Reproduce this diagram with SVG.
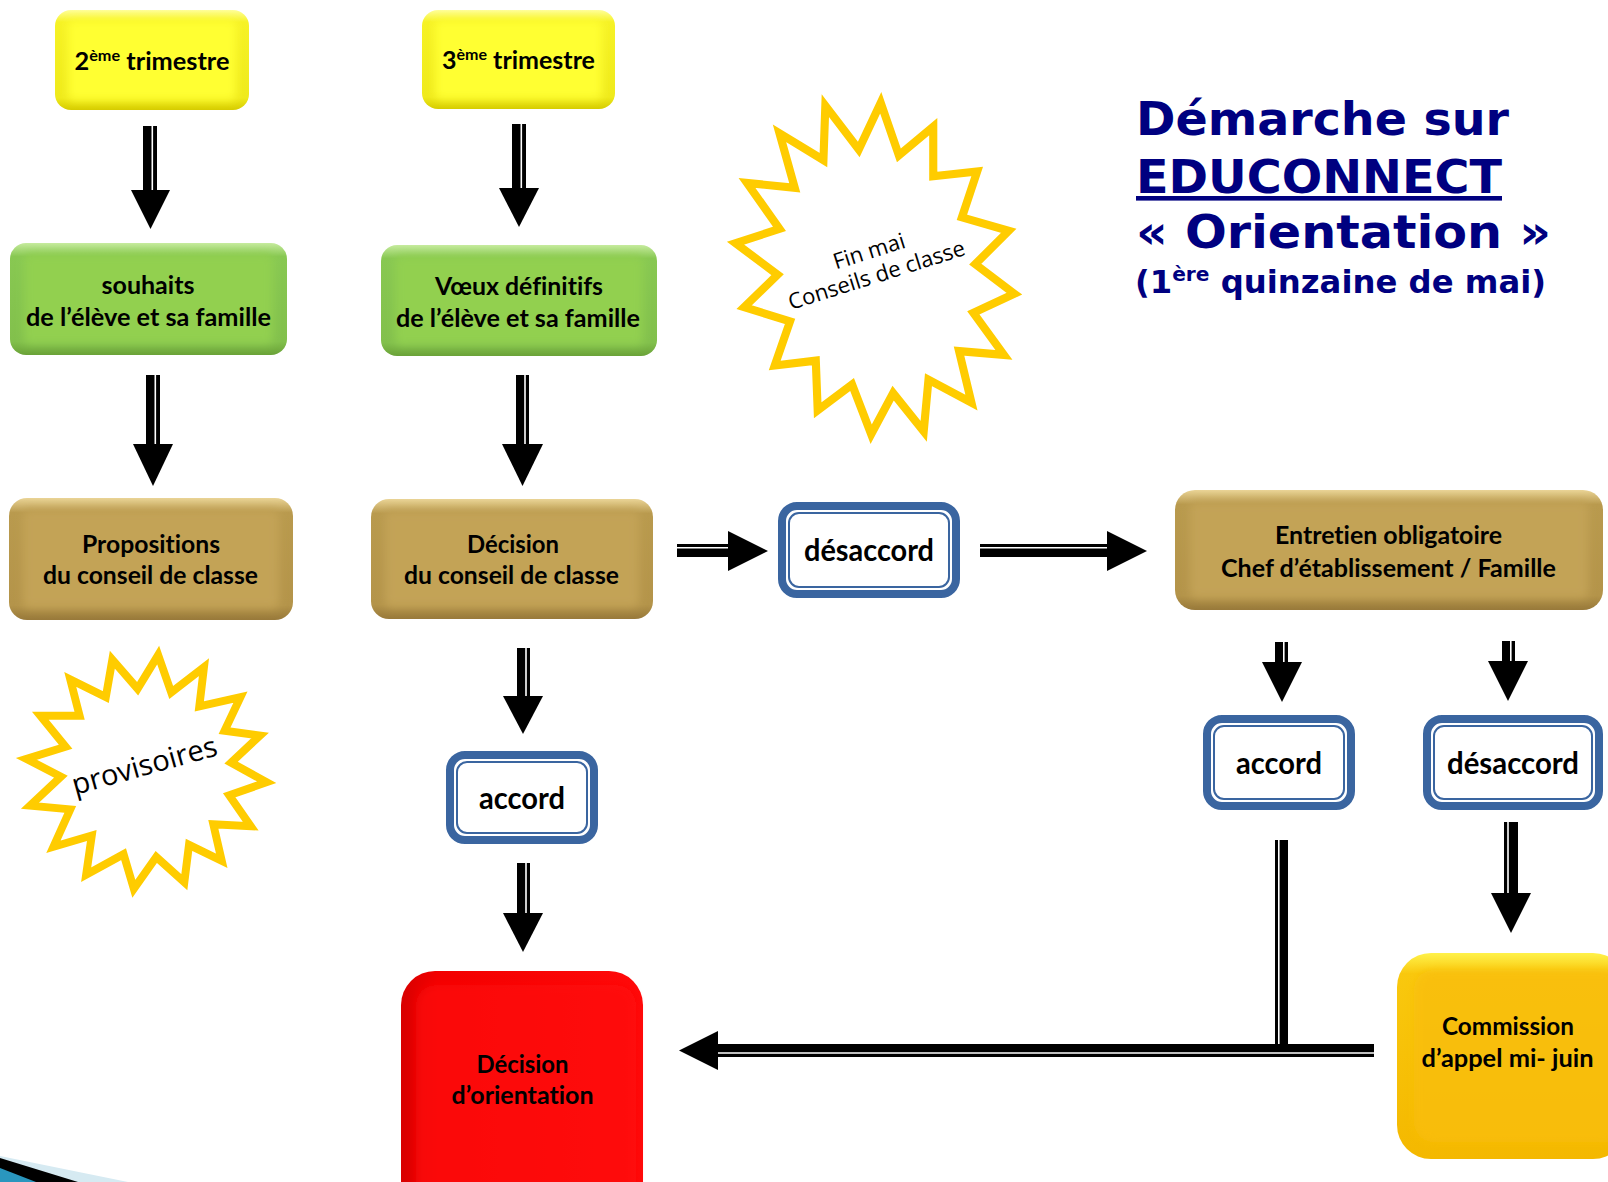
<svg xmlns="http://www.w3.org/2000/svg" width="1608" height="1182" viewBox="0 0 1608 1182">
<defs>
  <style>
    .lbl { font-family: Lato, "Open Sans", "DejaVu Sans", sans-serif; font-weight: 700; font-size: 25px; fill: #000; text-anchor: middle; font-variant-ligatures: none; font-feature-settings: "liga" 0, "clig" 0; }
    .big { font-size: 30px; }
    .title { font-family: "DejaVu Sans", Verdana, sans-serif; font-weight: 700; fill: #000080; }
    .startxt { font-family: "Open Sans", "DejaVu Sans", sans-serif; font-weight: 400; fill: #000; text-anchor: middle; }
    .star { fill: #fff; stroke: #FFCC00; stroke-width: 8.5; stroke-linejoin: miter; stroke-miterlimit: 10; }
    .bout { fill: #fff; stroke: #3A65A0; stroke-width: 8; }
    .bin { fill: none; stroke: #3A65A0; stroke-width: 2; }
    .ar { fill: #000; }
    .gap { stroke: #fff; stroke-width: 1.6; }
    .face { filter: url(#soft); }
  </style>
  <filter id="soft" x="-10%" y="-15%" width="120%" height="130%">
    <feGaussianBlur stdDeviation="4"/>
  </filter>
  <linearGradient id="yEdge" x1="0" y1="0" x2="0" y2="1">
    <stop offset="0" stop-color="#FFFF9A"/>
    <stop offset="0.12" stop-color="#F6F226"/>
    <stop offset="0.88" stop-color="#EFEA1C"/>
    <stop offset="1" stop-color="#D6CC00"/>
  </linearGradient>
  <linearGradient id="gEdge" x1="0" y1="0" x2="0" y2="1">
    <stop offset="0" stop-color="#C6EB9E"/>
    <stop offset="0.12" stop-color="#88C852"/>
    <stop offset="0.88" stop-color="#82C04C"/>
    <stop offset="1" stop-color="#6AA238"/>
  </linearGradient>
  <linearGradient id="tEdge" x1="0" y1="0" x2="0" y2="1">
    <stop offset="0" stop-color="#EAD496"/>
    <stop offset="0.12" stop-color="#B99A4E"/>
    <stop offset="0.88" stop-color="#B4944A"/>
    <stop offset="1" stop-color="#98793A"/>
  </linearGradient>
  <linearGradient id="rEdge" x1="0" y1="0" x2="1" y2="0">
    <stop offset="0" stop-color="#D80000"/>
    <stop offset="0.15" stop-color="#F20000"/>
    <stop offset="1" stop-color="#FF0A0A"/>
  </linearGradient>
  <linearGradient id="cEdge" x1="0" y1="0" x2="0" y2="1">
    <stop offset="0" stop-color="#FFF24A"/>
    <stop offset="0.1" stop-color="#F9C80E"/>
    <stop offset="1" stop-color="#F4B800"/>
  </linearGradient>
</defs>

<rect x="0" y="0" width="1608" height="1182" fill="#fff"/>

<!-- decorative corner -->
<g id="corner">
  <polygon points="0,1156 128,1182 0,1182" fill="#D6EAF2"/>
  <polygon points="0,1158 78,1182 0,1182" fill="#000"/>
  <polygon points="0,1168 36,1182 0,1182" fill="#2A96BE"/>
</g>

<!-- title -->
<g id="title">
  <text class="title" x="1136" y="135" font-size="46" textLength="373" lengthAdjust="spacingAndGlyphs">Démarche sur</text>
  <text class="title" x="1136" y="193" font-size="46" textLength="366" lengthAdjust="spacingAndGlyphs" text-decoration="underline">EDUCONNECT</text>
  <text class="title" x="1136" y="248" font-size="46" textLength="415" lengthAdjust="spacingAndGlyphs">« Orientation »</text>
  <text class="title" x="1135" y="293" font-size="32" textLength="411" lengthAdjust="spacingAndGlyphs">(1<tspan font-size="20" dy="-12">ère</tspan><tspan dy="12"> quinzaine de mai)</tspan></text>
</g>

<!-- connectors -->
<g id="connectors">
  <!-- col1 top -->
  <rect class="ar" x="143" y="126" width="14" height="65"/>
  <line class="gap" x1="152.3" y1="126" x2="152.3" y2="190"/>
  <polygon class="ar" points="131,190 170,190 150.5,229"/>
  <!-- col1 mid -->
  <rect class="ar" x="146" y="375" width="14" height="70"/>
  <line class="gap" x1="155.3" y1="375" x2="155.3" y2="444"/>
  <polygon class="ar" points="133,444 173,444 153,486"/>
  <!-- col2 top -->
  <rect class="ar" x="512" y="124" width="14" height="65"/>
  <line class="gap" x1="521.3" y1="124" x2="521.3" y2="188"/>
  <polygon class="ar" points="499,188 539,188 519,227"/>
  <!-- col2 mid -->
  <rect class="ar" x="516" y="375" width="13" height="70"/>
  <line class="gap" x1="525" y1="375" x2="525" y2="444"/>
  <polygon class="ar" points="502,444 543,444 522.5,486"/>
  <!-- decision -> accord -->
  <rect class="ar" x="517" y="648" width="13" height="49"/>
  <line class="gap" x1="526" y1="648" x2="526" y2="696"/>
  <polygon class="ar" points="503,696 543,696 523,734"/>
  <!-- accord -> decision d'orientation -->
  <rect class="ar" x="517" y="863" width="13" height="51"/>
  <line class="gap" x1="526" y1="863" x2="526" y2="913"/>
  <polygon class="ar" points="503,913 543,913 523,952"/>
  <!-- decision -> desaccord -->
  <rect class="ar" x="677" y="544" width="53" height="13"/>
  <line class="gap" x1="677" y1="547.7" x2="729" y2="547.7"/>
  <polygon class="ar" points="728,531 768,551 728,571"/>
  <!-- desaccord -> entretien -->
  <rect class="ar" x="980" y="544" width="128" height="13"/>
  <line class="gap" x1="980" y1="547.7" x2="1107" y2="547.7"/>
  <polygon class="ar" points="1107,531 1147,551 1107,571"/>
  <!-- entretien -> accord -->
  <rect class="ar" x="1275" y="642" width="13" height="21"/>
  <line class="gap" x1="1283.8" y1="642" x2="1283.8" y2="662"/>
  <polygon class="ar" points="1262,662 1302,662 1282,702"/>
  <!-- entretien -> desaccord -->
  <rect class="ar" x="1502" y="641" width="13" height="21"/>
  <line class="gap" x1="1510.8" y1="641" x2="1510.8" y2="661"/>
  <polygon class="ar" points="1488,661 1528,661 1508,701"/>
  <!-- desaccord -> commission -->
  <rect class="ar" x="1504" y="822" width="14" height="72"/>
  <line class="gap" x1="1508" y1="822" x2="1508" y2="893"/>
  <polygon class="ar" points="1491,893 1531,893 1511,933"/>
  <!-- accord -> decision d'orientation (line) -->
  <rect class="ar" x="1275" y="840" width="13" height="212"/>
  <line class="gap" x1="1278.8" y1="840" x2="1278.8" y2="1044"/>
  <rect class="ar" x="717" y="1044" width="657" height="13"/>
  <line class="gap" x1="717" y1="1053" x2="1374" y2="1053"/>
  <polygon class="ar" points="718,1031 679,1050.5 718,1070"/>
</g>

<!-- stars -->
<g id="star-conseils">
  <g transform="translate(875 268) scale(0.955) translate(-872 -266)">
    <polygon class="star" points="878,93 897,148 933,118 933,170 979,165 963,213 1012,227 977,262 1018,293 975,313 1007,357 960,353 973,407 928,383 923,437 891,397 868,440 848,388 812,415 810,363 767,368 783,322 735,307 770,273 726,240 772,225 738,177 788,182 772,125 818,153 820,96 855,142"/>
  </g>
  <g transform="translate(874,267) rotate(-17.5)">
    <text class="startxt" x="0" y="-9" font-size="22">Fin mai</text>
    <text class="startxt" x="0" y="16" font-size="22">Conseils de classe</text>
  </g>
</g>
<g id="star-provisoires">
  <g transform="translate(146 771) scale(0.935) translate(-146 -771)">
    <polygon class="star" points="159,647 173,687 208,660 203,702 247,692 230,728 268,733 237,762 275,783 235,797 258,830 218,828 227,867 192,850 187,890 157,863 133,897 122,860 82,882 88,840 47,852 65,812 22,808 55,777 18,758 60,745 33,712 75,712 65,673 103,692 110,652 137,683"/>
  </g>
  <g transform="translate(147,775) rotate(-15.5)">
    <text class="startxt" x="0" y="0" font-size="29">provisoires</text>
  </g>
</g>

<!-- nodes -->
<g id="n-trim2">
  <rect x="55" y="10" width="194" height="100" rx="16" fill="url(#yEdge)"/>
  <rect class="face" x="68" y="20" width="168" height="80" rx="6" fill="#FFFF33"/>
  <text class="lbl" x="152" y="70" textLength="155" lengthAdjust="spacingAndGlyphs">2<tspan font-size="16" dy="-9">ème</tspan><tspan dy="9"> trimestre</tspan></text>
</g>
<g id="n-trim3">
  <rect x="422" y="10" width="193" height="99" rx="16" fill="url(#yEdge)"/>
  <rect class="face" x="435" y="20" width="167" height="79" rx="6" fill="#FFFF33"/>
  <text class="lbl" x="518.5" y="69" textLength="153" lengthAdjust="spacingAndGlyphs">3<tspan font-size="16" dy="-9">ème</tspan><tspan dy="9"> trimestre</tspan></text>
</g>
<g id="n-souhaits">
  <rect x="10" y="243" width="277" height="112" rx="16" fill="url(#gEdge)"/>
  <rect class="face" x="24" y="254" width="249" height="90" rx="6" fill="#92D050"/>
  <text class="lbl" x="148" y="294" textLength="93" lengthAdjust="spacingAndGlyphs">souhaits</text>
  <text class="lbl" x="148.5" y="326" textLength="245" lengthAdjust="spacingAndGlyphs">de l’élève et sa famille</text>
</g>
<g id="n-voeux">
  <rect x="381" y="245" width="276" height="111" rx="16" fill="url(#gEdge)"/>
  <rect class="face" x="395" y="256" width="248" height="89" rx="6" fill="#92D050"/>
  <text class="lbl" x="519" y="295" textLength="168" lengthAdjust="spacingAndGlyphs">Vœux définitifs</text>
  <text class="lbl" x="518" y="327" textLength="244" lengthAdjust="spacingAndGlyphs">de l’élève et sa famille</text>
</g>
<g id="n-propositions">
  <rect x="9" y="498" width="284" height="122" rx="18" fill="url(#tEdge)"/>
  <rect class="face" x="23" y="510" width="256" height="98" rx="6" fill="#C3A356"/>
  <text class="lbl" x="151" y="553" textLength="138" lengthAdjust="spacingAndGlyphs">Propositions</text>
  <text class="lbl" x="150.5" y="584" textLength="215" lengthAdjust="spacingAndGlyphs">du conseil de classe</text>
</g>
<g id="n-decision-conseil">
  <rect x="371" y="499" width="282" height="120" rx="18" fill="url(#tEdge)"/>
  <rect class="face" x="385" y="511" width="254" height="96" rx="6" fill="#C3A356"/>
  <text class="lbl" x="513" y="553" textLength="92" lengthAdjust="spacingAndGlyphs">Décision</text>
  <text class="lbl" x="511.5" y="584" textLength="215" lengthAdjust="spacingAndGlyphs">du conseil de classe</text>
</g>
<g id="n-desaccord1">
  <rect class="bout" x="782" y="506" width="174" height="88" rx="15"/>
  <rect class="bin" x="789" y="513" width="160" height="74" rx="10"/>
  <text class="lbl big" x="869" y="561" textLength="130" lengthAdjust="spacingAndGlyphs">désaccord</text>
</g>
<g id="n-entretien">
  <rect x="1175" y="490" width="428" height="120" rx="20" fill="url(#tEdge)"/>
  <rect class="face" x="1190" y="502" width="398" height="96" rx="6" fill="#C3A356"/>
  <text class="lbl" x="1388.5" y="544" textLength="227" lengthAdjust="spacingAndGlyphs">Entretien obligatoire</text>
  <text class="lbl" x="1388.5" y="577" textLength="335" lengthAdjust="spacingAndGlyphs">Chef d’établissement / Famille</text>
</g>
<g id="n-accord1">
  <rect class="bout" x="450" y="755" width="144" height="85" rx="15"/>
  <rect class="bin" x="457" y="762" width="130" height="71" rx="10"/>
  <text class="lbl big" x="522" y="809" textLength="86" lengthAdjust="spacingAndGlyphs">accord</text>
</g>
<g id="n-accord2">
  <rect class="bout" x="1207" y="719" width="144" height="87" rx="15"/>
  <rect class="bin" x="1214" y="726" width="130" height="73" rx="10"/>
  <text class="lbl big" x="1279" y="774" textLength="86" lengthAdjust="spacingAndGlyphs">accord</text>
</g>
<g id="n-desaccord2">
  <rect class="bout" x="1427" y="719" width="172" height="87" rx="15"/>
  <rect class="bin" x="1434" y="726" width="158" height="73" rx="10"/>
  <text class="lbl big" x="1513" y="774" textLength="132" lengthAdjust="spacingAndGlyphs">désaccord</text>
</g>
<g id="n-decision-orientation">
  <rect x="401" y="971" width="242" height="250" rx="34" fill="url(#rEdge)"/>
  <rect class="face" x="416" y="985" width="220" height="220" rx="20" fill="#FF0A0A" opacity="0.7"/>
  <text class="lbl" x="522.5" y="1073" textLength="92" lengthAdjust="spacingAndGlyphs">Décision</text>
  <text class="lbl" x="522.5" y="1104" textLength="142" lengthAdjust="spacingAndGlyphs">d’orientation</text>
</g>
<g id="n-commission">
  <rect x="1397" y="953" width="230" height="206" rx="34" fill="url(#cEdge)"/>
  <rect class="face" x="1414" y="970" width="210" height="172" rx="20" fill="#F9BE0C" opacity="0.8"/>
  <text class="lbl" x="1508" y="1035" textLength="132" lengthAdjust="spacingAndGlyphs">Commission</text>
  <text class="lbl" x="1507.5" y="1067" textLength="172" lengthAdjust="spacingAndGlyphs">d’appel mi- juin</text>
</g>
</svg>
